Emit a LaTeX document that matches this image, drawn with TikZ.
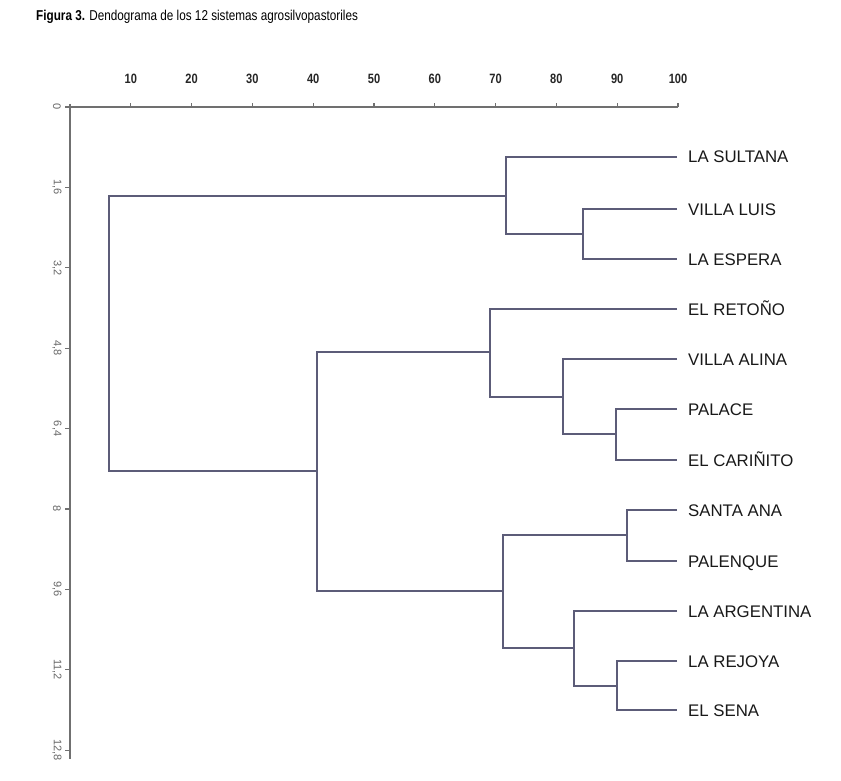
\documentclass[tikz,border=0pt]{standalone}
\usepackage{fontspec}
\setmainfont{Liberation Sans}
\newfontfamily\condfont{Liberation Sans}[FakeStretch=0.82]
\definecolor{dendro}{HTML}{5C5C78}
\definecolor{axisgray}{HTML}{707070}
\tikzset{
  link/.style={draw=dendro, line width=1.1pt},
  axisline/.style={draw=axisgray, line width=1.1pt},
  leaf/.style={anchor=west, inner xsep=11pt, inner ysep=0pt, text height=12pt,
    text depth=0pt, font=\fontsize{16.8}{17}\selectfont, text=black!90},
  toplabel/.style={font=\condfont\bfseries\fontsize{13.5}{13}\selectfont, text=black!85},
  sidelabel/.style={rotate=-90, font=\fontsize{11}{11}\selectfont, text=black!60},
}
\begin{document}
\begin{tikzpicture}[x=1pt, y=-1pt]
    \fill[white] (0,0) rectangle (841,781);
    \useasboundingbox (0,0) rectangle (841,781);
    \node[anchor=west, inner sep=0, font=\condfont\fontsize{14.3}{14}\selectfont] (title) at (36,17)
      {\textbf{Figura 3.} Dendograma de los 12 sistemas agrosilvopastoriles};

    \draw[axisline] (70,107) -- (678,107);
    \foreach \v [count=\i] in {10,20,...,100} {
      \draw[axisline] ({70+6.08*\v},107) -- ++(0,-4);
      \node[toplabel] (xt\i) at ({70+6.08*\v},79) {\v};
    }
    \draw[axisline] (70,104) -- (70,759);
    \foreach \v/\t [count=\i] in {0/0, 1.6/{1,6}, 3.2/{3,2}, 4.8/{4,8}, 6.4/{6,4},
        8/8, 9.6/{9,6}, 11.2/{11,2}, 12.8/{12,8}} {
      \draw[axisline] (70,{107+50.25*\v}) -- ++(-5,0);
      \node[sidelabel] (yt\i) at (57,{107+50.25*\v}) {\t};
    }

    \node[leaf] (sultana) at (677,157) {LA SULTANA};
    \node[leaf] (villaluis) at (677,209) {VILLA LUIS};
    \node[leaf] (espera) at (677,259) {LA ESPERA};
    \node[leaf] (retono) at (677,309) {EL RETOÑO};
    \node[leaf] (alina) at (677,359) {VILLA ALINA};
    \node[leaf] (palace) at (677,409) {PALACE};
    \node[leaf] (carinito) at (677,460) {EL CARIÑITO};
    \node[leaf] (santaana) at (677,510) {SANTA ANA};
    \node[leaf] (palenque) at (677,561) {PALENQUE};
    \node[leaf] (argentina) at (677,611) {LA ARGENTINA};
    \node[leaf] (rejoya) at (677,661) {LA REJOYA};
    \node[leaf] (sena) at (677,710) {EL SENA};

    \coordinate (m1) at (583,234);
    \coordinate (m2) at (506,196);
    \coordinate (m3) at (616,434);
    \coordinate (m4) at (563,397);
    \coordinate (m5) at (490,352);
    \coordinate (m6) at (627,535);
    \coordinate (m7) at (617,686);
    \coordinate (m8) at (574,648);
    \coordinate (m9) at (503,591);
    \coordinate (m10) at (317,471);
    \coordinate (root) at (109,334);

    \draw[link] (villaluis.west) -| (m1) |- (espera.west);
    \draw[link] (sultana.west) -| (m2) |- (m1);
    \draw[link] (palace.west) -| (m3) |- (carinito.west);
    \draw[link] (alina.west) -| (m4) |- (m3);
    \draw[link] (retono.west) -| (m5) |- (m4);
    \draw[link] (santaana.west) -| (m6) |- (palenque.west);
    \draw[link] (rejoya.west) -| (m7) |- (sena.west);
    \draw[link] (argentina.west) -| (m8) |- (m7);
    \draw[link] (m6) -| (m9) |- (m8);
    \draw[link] (m5) -| (m10) |- (m9);
    \draw[link] (m2) -| (root) |- (m10);
  \end{tikzpicture}
\end{document}
